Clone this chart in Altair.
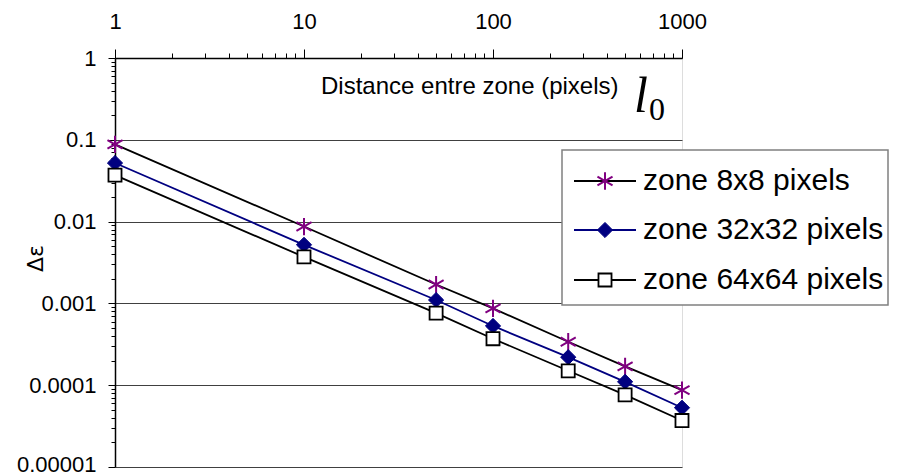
import altair as alt
import pandas as pd

# ---------------- data ----------------
distance = [1, 10, 50, 100, 250, 500, 1000]
zone8 = [0.088, 0.0087, 0.0017, 0.00087, 0.00034, 0.00017, 0.000087]
zone32 = [0.052, 0.0052, 0.0011, 0.00053, 0.00022, 0.00011, 0.000053]
zone64 = [0.037, 0.0037, 0.00076, 0.00037, 0.00015, 0.000076, 0.000037]

series_names = ["zone 8x8 pixels", "zone 32x32 pixels", "zone 64x64 pixels"]
line_colors = ["#000000", "#000080", "#000000"]

x_decades = [1, 10, 100, 1000]
y_decades = [0.00001, 0.0001, 0.001, 0.01, 0.1, 1]
minor_mult = [1, 2, 3, 4, 5, 6, 7, 8, 9]

x_ticks = [float(f"{d * m:.6g}") for d in x_decades[:-1] for m in minor_mult] + [1000]
y_ticks = [float(f"{d * m:.6g}") for d in y_decades[:-1] for m in minor_mult] + [1]

rows = []
for name, vals in zip(series_names, [zone8, zone32, zone64]):
    for xv, yv in zip(distance, vals):
        rows.append({"x": xv, "v": yv, "series": name})
df = pd.DataFrame(rows)

FONT = "Liberation Sans"
MAJOR = "abs(log(datum.value)/LN10 - round(log(datum.value)/LN10)) < 0.001"
STAR = "M0,-1L0,1M-0.87,-0.5L0.87,0.5M-0.87,0.5L0.87,-0.5"

x_enc = alt.X(
    "x:Q",
    scale=alt.Scale(type="log", domain=[1, 1000], nice=False),
    axis=alt.Axis(
        orient="top",
        values=x_ticks,
        labelExpr=f"({MAJOR}) ? format(datum.value, 'd') : ''",
        labelOverlap=False,
        labelFlush=False,
        labelFont=FONT,
        labelFontSize=22,
        labelColor="black",
        labelPadding=16,
        tickSize={"condition": {"test": MAJOR, "value": 9}, "value": 5},
        tickColor="black",
        tickWidth=1,
        domainColor="black",
        domainWidth=1.5,
        grid=False,
        title="Distance entre zone (pixels)",
        titleX=503,
        titleY=35,
        titleAlign="right",
        titleBaseline="alphabetic",
        titleAngle=0,
        titleFont=FONT,
        titleFontSize=24,
        titleFontWeight="normal",
        titleColor="black",
    ),
)

y_enc = alt.Y(
    "v:Q",
    scale=alt.Scale(type="log", domain=[0.00001, 1], nice=False),
    axis=alt.Axis(
        orient="left",
        values=y_ticks,
        labelExpr=f"({MAJOR}) ? format(datum.value, '.5~f') : ''",
        labelOverlap=False,
        labelFlush=False,
        labelFont=FONT,
        labelFontSize=22,
        labelColor="black",
        labelPadding=12,
        labelOffset={"condition": {"test": "datum.value < 0.000011", "value": -3}, "value": 0},
        tickSize={"condition": {"test": MAJOR, "value": 7}, "value": 4},
        tickColor="black",
        tickWidth=1,
        domainColor="black",
        domainWidth=1.5,
        grid=True,
        gridColor="#404040",
        gridWidth=1.2,
        gridOpacity={"condition": {"test": MAJOR, "value": 1}, "value": 0},
        title="Δε",
        titleX=-80,
        titleY=200,
        titleAngle=-90,
        titleAlign="center",
        titleBaseline="middle",
        titleFont="DejaVu Sans",
        titleFontSize=22,
        titleFontWeight="normal",
        titleColor="black",
    ),
)

base = alt.Chart(df)

lines = base.mark_line(strokeWidth=1.8).encode(
    x=x_enc,
    y=y_enc,
    color=alt.Color("series:N", scale=alt.Scale(domain=series_names, range=line_colors), legend=None),
    detail="series:N",
)

marker_props = [
    dict(shape=STAR, filled=False, stroke="#800080", strokeWidth=2, size=300, opacity=1),
    dict(shape="diamond", filled=True, fill="#000080", stroke="#000080", strokeWidth=1, size=230, opacity=1),
    dict(shape="square", filled=True, fill="white", stroke="black", strokeWidth=1.8, size=170, opacity=1),
]

point_layers = [
    base.transform_filter(alt.datum.series == name).mark_point(**mp).encode(x="x:Q", y="v:Q")
    for name, mp in zip(series_names, marker_props)
]

one = pd.DataFrame({"k": [0]})

legend_box = alt.Chart(one).mark_rect(fill="white", stroke="#808080", strokeWidth=1.5).encode(
    x=alt.value(447), x2=alt.value(773), y=alt.value(92), y2=alt.value(247)
)

legend_layers = []
row_y = [123, 172, 222]
for name, col, ry, mp in zip(series_names, line_colors, row_y, marker_props):
    c = alt.Chart(pd.DataFrame({"label": [name]}))
    legend_layers.append(
        c.mark_rule(stroke=col, strokeWidth=1.8).encode(x=alt.value(459), x2=alt.value(521), y=alt.value(ry))
    )
    legend_layers.append(c.mark_point(**mp).encode(x=alt.value(490), y=alt.value(ry)))
    legend_layers.append(
        c.mark_text(align="left", baseline="middle", font=FONT, fontSize=30, color="black").encode(
            x=alt.value(528), y=alt.value(ry), text="label:N"
        )
    )

l_text = alt.Chart(pd.DataFrame({"t": ["l"]})).mark_text(
    align="center", baseline="alphabetic", font="Liberation Serif", fontStyle="italic", fontSize=50, color="black"
).encode(x=alt.value(526), y=alt.value(54), text="t:N")
sub_text = alt.Chart(pd.DataFrame({"t": ["0"]})).mark_text(
    align="center", baseline="alphabetic", font="Liberation Serif", fontSize=32, color="black"
).encode(x=alt.value(542), y=alt.value(62), text="t:N")

chart = (
    alt.layer(lines, *point_layers, legend_box, *legend_layers, l_text, sub_text)
    .properties(
        width=567,
        height=409,
        autosize=alt.AutoSizeParams(type="none"),
        padding={"left": 107, "top": 50, "right": 207, "bottom": 10},
    )
    .configure_view(stroke="#808080", strokeWidth=1.5)
    .configure(background="white")
)

chart.save("out.html", embed_options={"renderer": "svg", "actions": False})
